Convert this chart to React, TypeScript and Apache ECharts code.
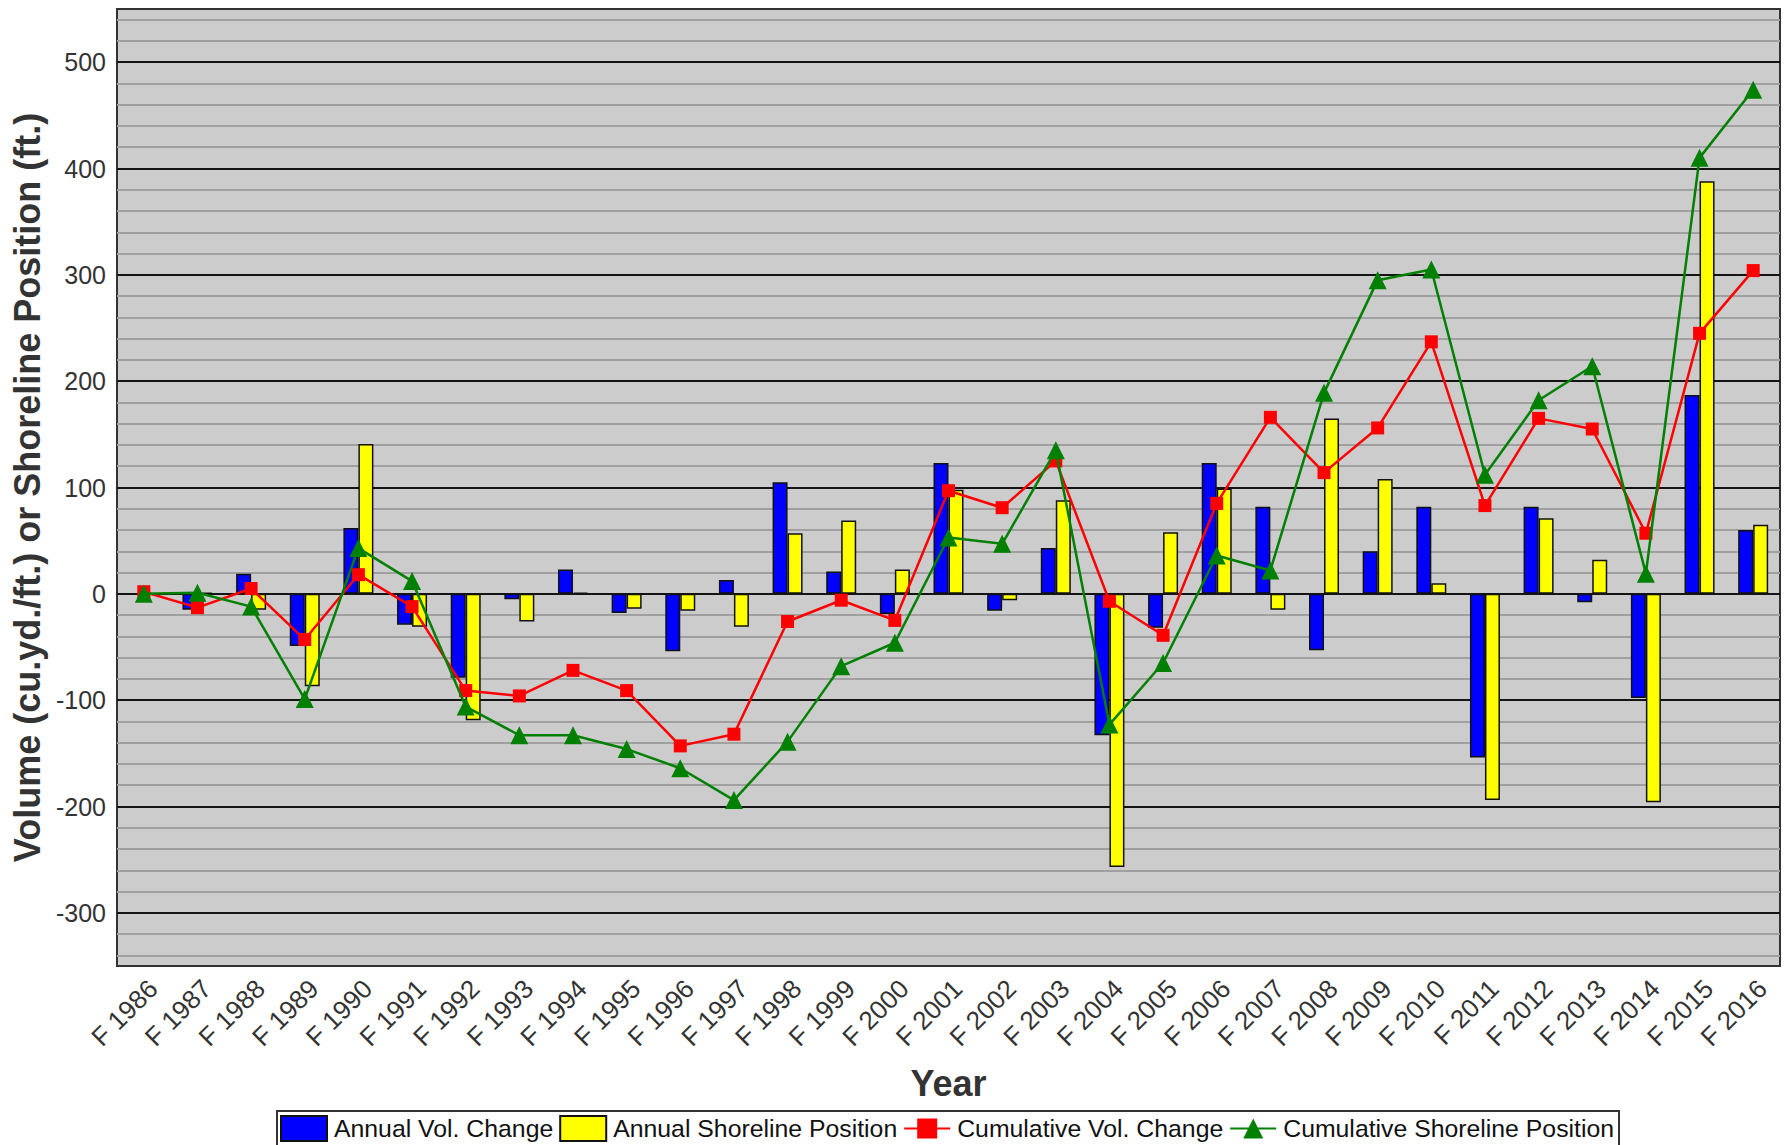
import React, { useEffect, useRef } from "react";
import * as echarts from "echarts";

const years: string[] = [
  "F 1986", "F 1987", "F 1988", "F 1989", "F 1990", "F 1991", "F 1992", "F 1993",
  "F 1994", "F 1995", "F 1996", "F 1997", "F 1998", "F 1999", "F 2000", "F 2001",
  "F 2002", "F 2003", "F 2004", "F 2005", "F 2006", "F 2007", "F 2008", "F 2009",
  "F 2010", "F 2011", "F 2012", "F 2013", "F 2014", "F 2015", "F 2016",
];

const annualVolChange: number[] = [
  0, -15, 19, -49, 62, -29, -79, -5, 23, -18, -54, 13, 105, 21, -19, 123,
  -16, 43, -133, -32, 123, 82, -53, 40, 82, -154, 82, -8, -98, 187, 60,
];

const annualShorelinePosition: number[] = [
  0, 1, -15, -87, 141, -31, -119, -26, 1, -14, -16, -31, 57, 69, 23, 98,
  -6, 88, -257, 58, 99, -15, 165, 108, 10, -194, 71, 32, -196, 388, 65,
];

const cumulativeVolChange: number[] = [
  2, -13, 5, -43, 18, -12, -91, -96, -72, -91, -143, -132, -26, -6, -25, 97,
  81, 125, -7, -39, 85, 166, 114, 156, 237, 83, 165, 155, 57, 245, 304,
];

const cumulativeShorelinePosition: number[] = [
  0, 1, -12, -99, 43, 12, -106, -133, -133, -146, -164, -194, -139, -68, -46, 53,
  47, 135, -123, -65, 36, 22, 189, 295, 305, 112, 182, 214, 19, 410, 474,
];

const seriesNames: string[] = [
  "Annual Vol. Change",
  "Annual Shoreline Position",
  "Cumulative Vol. Change",
  "Cumulative Shoreline Position",
];

const Y_MIN = -350;
const Y_MAX = 550;

const FONT = "'Liberation Sans', Arial, Helvetica, sans-serif";

export default function App() {
  const ref = useRef<HTMLDivElement>(null);

  useEffect(() => {
    if (!ref.current) return;
    const chart = echarts.init(ref.current, undefined, { renderer: "svg" });

    const T = "rgba(0,0,0,0)";
    const G = "#a0a0a0";
    const B = "#141414";
    // ticks every 10 starting at -350: minor grey every 20, black every 100
    const splitColors = [T, G, T, G, T, B, T, G, T, G];

    const option: any = {
      animation: false,
      backgroundColor: "#ffffff",
      textStyle: { fontFamily: FONT },
      grid: {
        left: 117,
        right: 7,
        top: 9,
        bottom: 179,
        show: true,
        backgroundColor: "#cccccc",
        borderColor: "#333333",
        borderWidth: 2,
        containLabel: false,
        outerBoundsMode: "none",
      },
      legend: {
        left: 277,
        top: 1111,
        orient: "horizontal",
        itemWidth: 46,
        itemHeight: 25,
        itemGap: 6,
        padding: [4, 5, 10, 3],
        borderColor: "#333333",
        borderWidth: 2,
        backgroundColor: "#ffffff",
        textStyle: { fontSize: 24.8, color: "#111111", fontFamily: FONT, padding: [0, 0, 0, 2] },
        data: [
          { name: seriesNames[0], icon: "rect" },
          { name: seriesNames[1], icon: "rect" },
          { name: seriesNames[2] },
          { name: seriesNames[3] },
        ],
      },
      xAxis: {
        type: "category",
        data: years,
        boundaryGap: true,
        axisLine: { show: false },
        axisTick: { show: false },
        axisLabel: {
          rotate: 45,
          interval: 0,
          fontSize: 26,
          color: "#333333",
          fontFamily: FONT,
          margin: 9,
          align: "right",
          verticalAlign: "top",
        },
        name: "Year",
        nameLocation: "middle",
        nameGap: 99,
        nameTextStyle: { fontSize: 36, fontWeight: "bold", color: "#333333", fontFamily: FONT },
      },
      yAxis: {
        type: "value",
        min: Y_MIN,
        max: Y_MAX,
        interval: 10,
        axisLine: { show: false },
        axisTick: { show: false },
        axisLabel: {
          fontSize: 25,
          color: "#333333",
          fontFamily: FONT,
          margin: 11,
          formatter: (v: number) => (Math.round(v) % 100 === 0 ? String(Math.round(v)) : ""),
        },
        splitLine: { show: true, lineStyle: { color: splitColors, width: 2 } },
        name: "Volume (cu.yd./ft.) or Shoreline Position (ft.)",
        nameLocation: "middle",
        nameGap: 69,
        nameRotate: 90,
        nameTextStyle: { fontSize: 36, fontWeight: "bold", color: "#333333", fontFamily: FONT },
      },
      series: [
        {
          name: seriesNames[0],
          type: "bar",
          data: annualVolChange,
          barWidth: 15,
          barGap: "0%",
          itemStyle: { color: "#0000ff", borderColor: "#111111", borderWidth: 1.5 },
        },
        {
          name: seriesNames[1],
          type: "bar",
          data: annualShorelinePosition,
          barWidth: 15,
          barGap: "0%",
          itemStyle: { color: "#ffff00", borderColor: "#111111", borderWidth: 1.5 },
        },
        {
          name: seriesNames[2],
          type: "line",
          data: cumulativeVolChange,
          symbol: "rect",
          symbolSize: 13,
          lineStyle: { color: "#ff0000", width: 2.5 },
          itemStyle: { color: "#ff0000" },
          z: 4,
        },
        {
          name: seriesNames[3],
          type: "line",
          data: cumulativeShorelinePosition,
          symbol: "triangle",
          symbolSize: 18,
          lineStyle: { color: "#008000", width: 2.5 },
          itemStyle: { color: "#008000" },
          z: 5,
        },
      ],
    };

    chart.setOption(option);
    return () => chart.dispose();
  }, []);

  return (
    <div
      ref={ref}
      style={{ position: "fixed", left: 0, top: 0, width: 1787, height: 1145, background: "#fff" }}
    />
  );
}
